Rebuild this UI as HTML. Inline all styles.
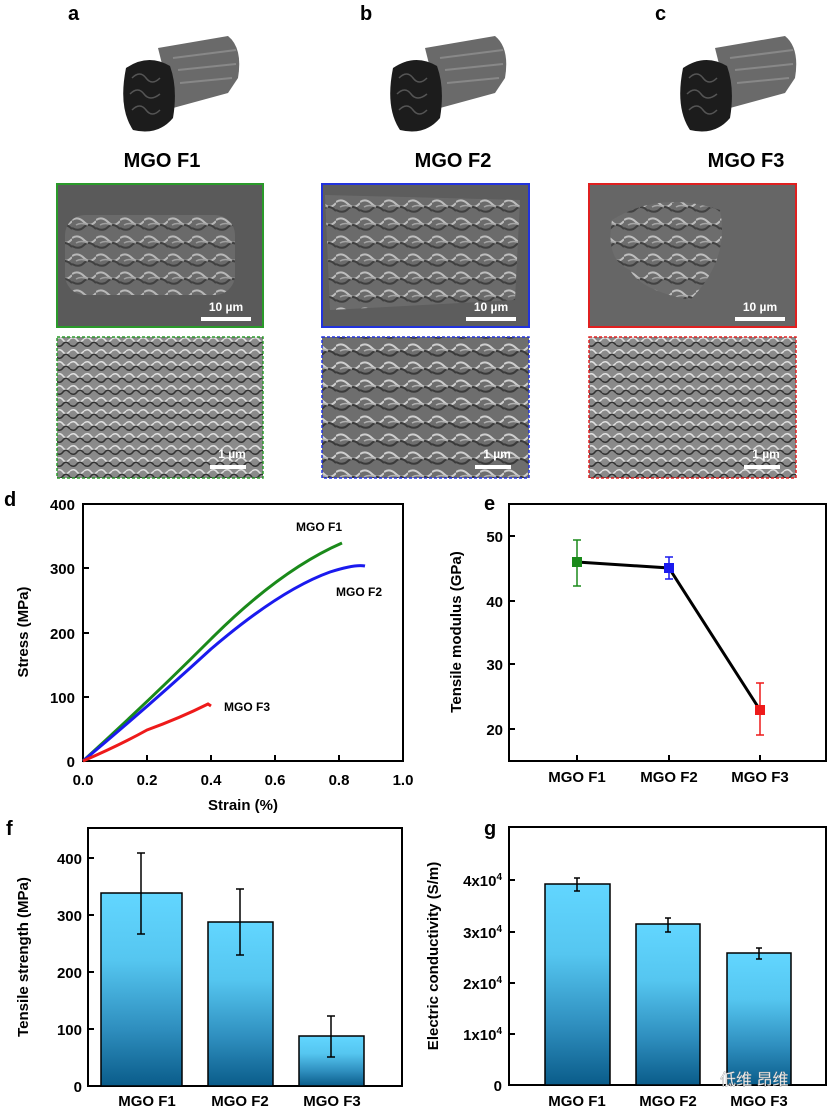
<!DOCTYPE html>
<html><head><meta charset="utf-8"><style>
body{margin:0;background:#fff;}
svg{display:block;font-family:"Liberation Sans",Arial,sans-serif;}
</style></head><body>
<svg width="830" height="1113" viewBox="0 0 830 1113" xmlns="http://www.w3.org/2000/svg">
<defs>
<linearGradient id="bar" x1="0" y1="0" x2="0" y2="1">
<stop offset="0" stop-color="#62d6ff"/><stop offset="0.35" stop-color="#55c6f0"/><stop offset="0.7" stop-color="#2f8fbf"/><stop offset="1" stop-color="#0a5c8a"/></linearGradient>
<pattern id="sem" width="24" height="18" patternUnits="userSpaceOnUse">
<rect width="24" height="18" fill="#6e6e6e"/>
<path d="M0 4 Q6 0 12 6 T24 5" stroke="#cfcfcf" stroke-width="2" fill="none"/>
<path d="M0 12 Q7 16 12 11 T24 13" stroke="#3a3a3a" stroke-width="2" fill="none"/>
<path d="M4 9 Q9 6 16 9" stroke="#b0b0b0" stroke-width="1.5" fill="none"/>
</pattern>
<pattern id="sem2" width="14" height="12" patternUnits="userSpaceOnUse">
<rect width="14" height="12" fill="#8a8a8a"/>
<path d="M0 3 Q4 0 7 4 T14 3" stroke="#e0e0e0" stroke-width="1.5" fill="none"/>
<path d="M0 9 Q4 12 7 8 T14 9" stroke="#333" stroke-width="1.5" fill="none"/>
</pattern>
<g id="fiber">
<path d="M40 20 L110 8 Q125 20 120 50 L110 65 L55 80 Z" fill="#6a6a6a"/>
<path d="M55 30 L118 22 M60 42 L118 36 M62 55 L114 50" stroke="#888" stroke-width="2" fill="none"/>
<path d="M8 40 Q30 25 52 38 Q60 60 55 90 Q40 108 15 102 Q0 80 8 40 Z" fill="#1c1c1c"/>
<path d="M14 50 q8 -8 14 0 t14 0 M12 66 q8 -8 14 0 t16 0 M14 82 q8 -8 14 0 t14 0" stroke="#555" stroke-width="1.5" fill="none"/>
</g>
</defs>

<g font-weight="bold" font-size="20" fill="#000">
<text x="68" y="20">a</text><text x="360" y="20">b</text><text x="655" y="20">c</text>
</g>
<use href="#fiber" x="118" y="28"/>
<use href="#fiber" x="385" y="28"/>
<use href="#fiber" x="675" y="28"/>
<g font-weight="bold" font-size="20" text-anchor="middle">
<text x="162" y="167">MGO F1</text><text x="453" y="167">MGO F2</text><text x="746" y="167">MGO F3</text>
</g>

<rect x="57" y="184" width="206" height="143" fill="#5a5a5a"/>
<rect x="65" y="215" width="170" height="80" fill="url(#sem)" opacity="0.8" rx="20"/>
<rect x="57" y="184" width="206" height="143" fill="none" stroke="#2a9a2a" stroke-width="2"/>
<rect x="322" y="184" width="207" height="143" fill="#5d5d5d"/>
<path d="M325 195 L520 200 L515 300 L330 310 Z" fill="url(#sem)" opacity="0.85"/>
<rect x="322" y="184" width="207" height="143" fill="none" stroke="#2233dd" stroke-width="2"/>
<rect x="589" y="184" width="207" height="143" fill="#666"/>
<path d="M612 220 Q660 190 720 210 Q730 260 690 300 Q640 290 630 270 Q605 260 612 220 Z" fill="url(#sem)" opacity="0.85"/>
<rect x="589" y="184" width="207" height="143" fill="none" stroke="#e02020" stroke-width="2"/>
<g fill="#fff" font-weight="bold" font-size="12" text-anchor="middle">
<rect x="201" y="317" width="50" height="4"/><text x="226" y="311">10 µm</text>
<rect x="466" y="317" width="50" height="4"/><text x="491" y="311">10 µm</text>
<rect x="735" y="317" width="50" height="4"/><text x="760" y="311">10 µm</text>
</g>
<rect x="57" y="337" width="206" height="141" fill="url(#sem2)"/>
<rect x="57" y="337" width="206" height="141" fill="none" stroke="#2a9a2a" stroke-width="1.5" stroke-dasharray="3,2"/>
<rect x="322" y="337" width="207" height="141" fill="url(#sem)"/>
<rect x="322" y="337" width="207" height="141" fill="none" stroke="#2233dd" stroke-width="1.5" stroke-dasharray="3,2"/>
<rect x="589" y="337" width="207" height="141" fill="url(#sem2)"/>
<rect x="589" y="337" width="207" height="141" fill="none" stroke="#e02020" stroke-width="1.5" stroke-dasharray="3,2"/>
<g fill="#fff" font-weight="bold" font-size="12" text-anchor="middle">
<rect x="210" y="465" width="36" height="4"/><text x="232" y="458">1 µm</text>
<rect x="475" y="465" width="36" height="4"/><text x="497" y="458">1 µm</text>
<rect x="744" y="465" width="36" height="4"/><text x="766" y="458">1 µm</text>
</g>

<!-- Panel d -->
<text x="4" y="506" font-weight="bold" font-size="20">d</text>
<rect x="83" y="504" width="320" height="257" fill="none" stroke="#000" stroke-width="2"/>
<g stroke="#000" stroke-width="2" fill="none">
<path d="M83 568 h6 M83 633 h6 M83 697 h6 M147 761 v-6 M211 761 v-6 M275 761 v-6 M339 761 v-6"/>
</g>
<g font-size="15" font-weight="bold" text-anchor="end">
<text x="75" y="510">400</text><text x="75" y="574">300</text><text x="75" y="639">200</text><text x="75" y="703">100</text><text x="75" y="767">0</text>
</g>
<g font-size="15" font-weight="bold" text-anchor="middle">
<text x="83" y="785">0.0</text><text x="147" y="785">0.2</text><text x="211" y="785">0.4</text><text x="275" y="785">0.6</text><text x="339" y="785">0.8</text><text x="403" y="785">1.0</text>
<text x="243" y="810">Strain (%)</text>
<text transform="translate(28 632) rotate(-90)">Stress (MPa)</text>
</g>
<path d="M83 761 Q150 700 211 639 Q280 570 342 543" stroke="#1a8a1a" stroke-width="3" fill="none"/>
<path d="M83 761 Q150 705 211 649 Q280 590 330 572 Q355 564 365 566" stroke="#1a1aee" stroke-width="3" fill="none"/>
<path d="M83 761 Q120 745 147 730 Q180 718 208 704 L211 706" stroke="#ee1a1a" stroke-width="3" fill="none"/>
<g font-size="12" font-weight="bold">
<text x="296" y="531">MGO F1</text><text x="336" y="596">MGO F2</text><text x="224" y="711">MGO F3</text>
</g>

<!-- Panel e -->
<text x="484" y="510" font-weight="bold" font-size="20">e</text>
<rect x="509" y="504" width="317" height="257" fill="none" stroke="#000" stroke-width="2"/>
<g stroke="#000" stroke-width="2"><path d="M509 536 h6 M509 601 h6 M509 664 h6 M509 729 h6 M577 761 v-6 M669 761 v-6 M760 761 v-6"/></g>
<g font-size="15" font-weight="bold" text-anchor="end">
<text x="503" y="542">50</text><text x="503" y="607">40</text><text x="503" y="670">30</text><text x="503" y="735">20</text>
</g>
<g font-size="15" font-weight="bold" text-anchor="middle">
<text x="577" y="782">MGO F1</text><text x="669" y="782">MGO F2</text><text x="760" y="782">MGO F3</text>
<text transform="translate(461 632) rotate(-90)">Tensile modulus (GPa)</text>
</g>
<path d="M577 562 L669 568 L760 710" stroke="#000" stroke-width="3" fill="none"/>
<g stroke-width="1.5" fill="none">
<path d="M577 540 V586 M573 540 h8 M573 586 h8" stroke="#1a8a1a"/>
<path d="M669 557 V579 M665 557 h8 M665 579 h8" stroke="#1a1aee"/>
<path d="M760 683 V735 M756 683 h8 M756 735 h8" stroke="#ee1a1a"/>
</g>
<rect x="572" y="557" width="10" height="10" fill="#1a8a1a"/>
<rect x="664" y="563" width="10" height="10" fill="#1a1aee"/>
<rect x="755" y="705" width="10" height="10" fill="#ee1a1a"/>

<!-- Panel f -->
<text x="6" y="835" font-weight="bold" font-size="20">f</text>
<rect x="88" y="828" width="314" height="258" fill="none" stroke="#000" stroke-width="2"/>
<g stroke="#000" stroke-width="2"><path d="M88 858 h6 M88 915 h6 M88 972 h6 M88 1029 h6"/></g>
<g font-size="15" font-weight="bold" text-anchor="end">
<text x="82" y="864">400</text><text x="82" y="921">300</text><text x="82" y="978">200</text><text x="82" y="1035">100</text><text x="82" y="1092">0</text>
</g>
<g font-size="15" font-weight="bold" text-anchor="middle">
<text x="147" y="1106">MGO F1</text><text x="240" y="1106">MGO F2</text><text x="332" y="1106">MGO F3</text>
<text transform="translate(28 957) rotate(-90)">Tensile strength (MPa)</text>
</g>
<g stroke="#000" stroke-width="1.5">
<rect x="101" y="893" width="81" height="193" fill="url(#bar)"/>
<rect x="208" y="922" width="65" height="164" fill="url(#bar)"/>
<rect x="299" y="1036" width="65" height="50" fill="url(#bar)"/>
<path d="M141 853 V934 M137 853 h8 M137 934 h8 M240 889 V955 M236 889 h8 M236 955 h8 M331 1016 V1057 M327 1016 h8 M327 1057 h8" fill="none"/>
</g>

<!-- Panel g -->
<text x="484" y="835" font-weight="bold" font-size="20">g</text>
<rect x="509" y="827" width="317" height="258" fill="none" stroke="#000" stroke-width="2"/>
<g stroke="#000" stroke-width="2"><path d="M509 880 h6 M509 932 h6 M509 983 h6 M509 1034 h6"/></g>
<g font-size="15" font-weight="bold" text-anchor="end">
<text x="502" y="886">4x10<tspan font-size="10" dy="-6">4</tspan></text>
<text x="502" y="938">3x10<tspan font-size="10" dy="-6">4</tspan></text>
<text x="502" y="989">2x10<tspan font-size="10" dy="-6">4</tspan></text>
<text x="502" y="1040">1x10<tspan font-size="10" dy="-6">4</tspan></text>
<text x="502" y="1091">0</text>
</g>
<g font-size="15" font-weight="bold" text-anchor="middle">
<text x="577" y="1106">MGO F1</text><text x="668" y="1106">MGO F2</text><text x="759" y="1106">MGO F3</text>
<text transform="translate(438 956) rotate(-90)">Electric conductivity (S/m)</text>
</g>
<g stroke="#000" stroke-width="1.5">
<rect x="545" y="884" width="65" height="201" fill="url(#bar)"/>
<rect x="636" y="924" width="64" height="161" fill="url(#bar)"/>
<rect x="727" y="953" width="64" height="132" fill="url(#bar)"/>
<path d="M577 878 V891 M574 878 h6 M574 891 h6 M668 918 V932 M665 918 h6 M665 932 h6 M759 948 V959 M756 948 h6 M756 959 h6" fill="none"/>
</g>
<text x="720" y="1085" font-family="Liberation Sans, 'Noto Sans CJK SC', sans-serif" font-size="16" fill="#fff" stroke="#999" stroke-width="0.4">低维 昂维</text>
</svg>
</body></html>
